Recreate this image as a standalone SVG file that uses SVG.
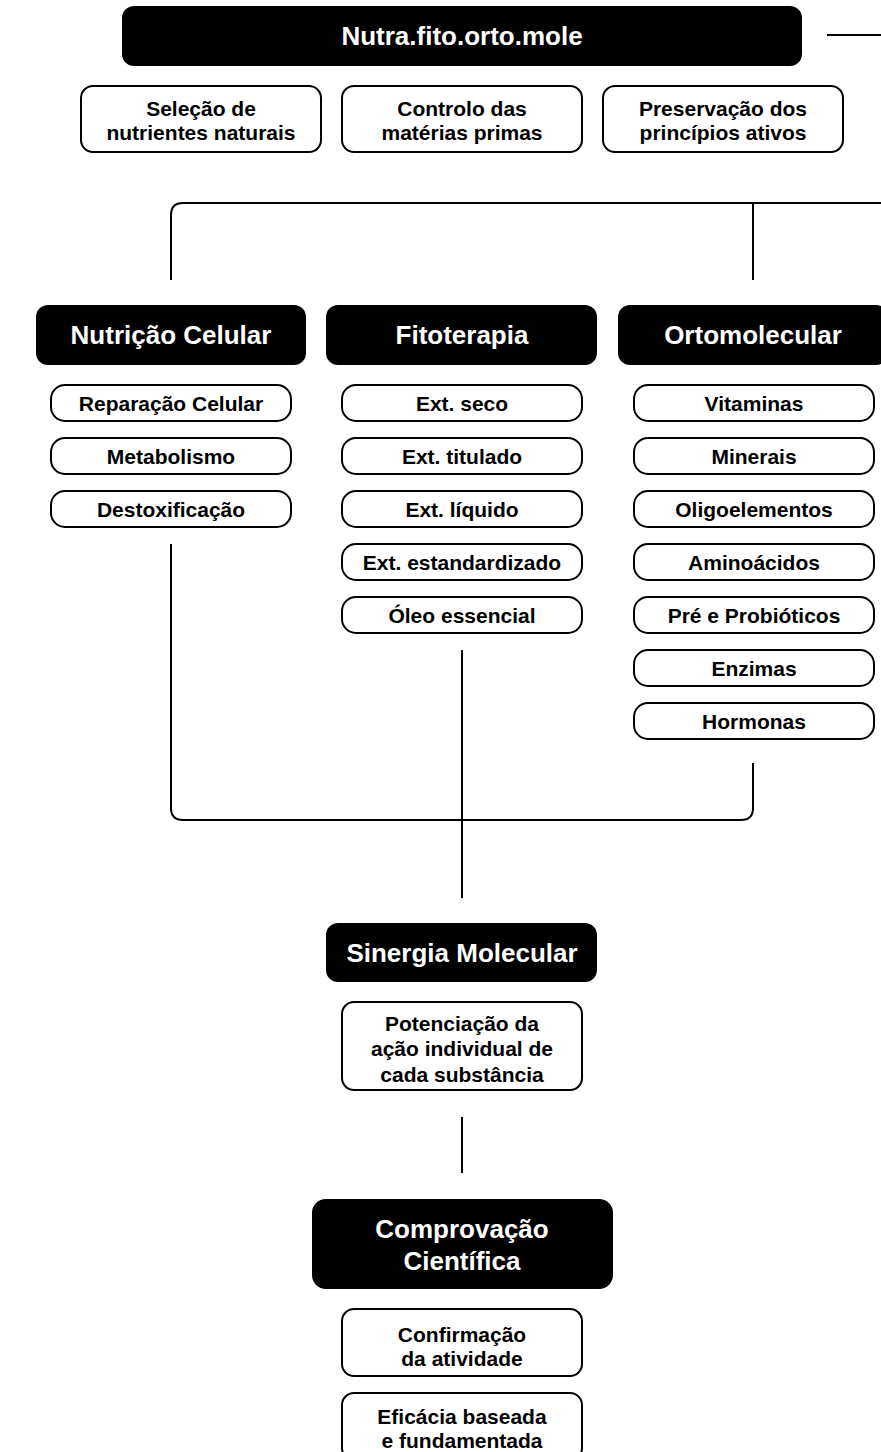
<svg xmlns="http://www.w3.org/2000/svg" width="881" height="1452" viewBox="0 0 881 1452">
  <style>
    .hd { fill: #000; }
    .box { fill: #fff; stroke: #000; stroke-width: 2; }
    .pill { fill: #fff; stroke: #000; stroke-width: 2; }
    .ln { fill: none; stroke: #000; stroke-width: 2; }
    text { font-family: "Liberation Sans", Arial, Helvetica, sans-serif; font-weight: bold; text-anchor: middle; }
    .ht { fill: #fff; font-size: 26px; }
    .bt { fill: #000; font-size: 21px; }
  </style>

  <rect width="881" height="1452" fill="#fff"/>

  <!-- connectors -->
  <g id="connectors">
    <path class="ln" d="M827 35 H881"/>
    <path class="ln" d="M171 280 V215 Q171 203 183 203 H881"/>
    <path class="ln" d="M753 203 V280"/>
    <path class="ln" d="M171 544 V808 Q171 820 183 820 H741 Q753 820 753 808 V763"/>
    <path class="ln" d="M462 650 V898"/>
    <path class="ln" d="M462 1117 V1173"/>
  </g>

  <!-- title -->
  <g id="title">
    <rect class="hd" x="122" y="6" width="680" height="60" rx="12"/>
    <text class="ht" x="462" y="45">Nutra.fito.orto.mole</text>
  </g>

  <!-- principles -->
  <g id="selecao">
    <rect class="box" x="81" y="86" width="240" height="66" rx="12"/>
    <text class="bt" x="201" y="116">Seleção de</text>
    <text class="bt" x="201" y="140">nutrientes naturais</text>
  </g>
  <g id="controlo">
    <rect class="box" x="342" y="86" width="240" height="66" rx="12"/>
    <text class="bt" x="462" y="116">Controlo das</text>
    <text class="bt" x="462" y="140">matérias primas</text>
  </g>
  <g id="preservacao">
    <rect class="box" x="603" y="86" width="240" height="66" rx="12"/>
    <text class="bt" x="723" y="116">Preservação dos</text>
    <text class="bt" x="723" y="140">princípios ativos</text>
  </g>

  <!-- category headers -->
  <g id="nutricao">
    <rect class="hd" x="36" y="305" width="270" height="60" rx="12"/>
    <text class="ht" x="171" y="344">Nutrição Celular</text>
  </g>
  <g id="fitoterapia">
    <rect class="hd" x="326" y="305" width="271" height="60" rx="12"/>
    <text class="ht" x="462" y="344">Fitoterapia</text>
  </g>
  <g id="ortomolecular">
    <rect class="hd" x="618" y="305" width="270" height="60" rx="12"/>
    <text class="ht" x="753" y="344">Ortomolecular</text>
  </g>

  <!-- Nutrição Celular items -->
  <g id="reparacao">
    <rect class="pill" x="51" y="385" width="240" height="36" rx="14"/>
    <text class="bt" x="171" y="411">Reparação Celular</text>
  </g>
  <g id="metabolismo">
    <rect class="pill" x="51" y="438" width="240" height="36" rx="14"/>
    <text class="bt" x="171" y="464">Metabolismo</text>
  </g>
  <g id="destoxificacao">
    <rect class="pill" x="51" y="491" width="240" height="36" rx="14"/>
    <text class="bt" x="171" y="517">Destoxificação</text>
  </g>

  <!-- Fitoterapia items -->
  <g id="ext-seco">
    <rect class="pill" x="342" y="385" width="240" height="36" rx="14"/>
    <text class="bt" x="462" y="411">Ext. seco</text>
  </g>
  <g id="ext-titulado">
    <rect class="pill" x="342" y="438" width="240" height="36" rx="14"/>
    <text class="bt" x="462" y="464">Ext. titulado</text>
  </g>
  <g id="ext-liquido">
    <rect class="pill" x="342" y="491" width="240" height="36" rx="14"/>
    <text class="bt" x="462" y="517">Ext. líquido</text>
  </g>
  <g id="ext-estandardizado">
    <rect class="pill" x="342" y="544" width="240" height="36" rx="14"/>
    <text class="bt" x="462" y="570">Ext. estandardizado</text>
  </g>
  <g id="oleo">
    <rect class="pill" x="342" y="597" width="240" height="36" rx="14"/>
    <text class="bt" x="462" y="623">Óleo essencial</text>
  </g>

  <!-- Ortomolecular items -->
  <g id="vitaminas">
    <rect class="pill" x="634" y="385" width="240" height="36" rx="14"/>
    <text class="bt" x="754" y="411">Vitaminas</text>
  </g>
  <g id="minerais">
    <rect class="pill" x="634" y="438" width="240" height="36" rx="14"/>
    <text class="bt" x="754" y="464">Minerais</text>
  </g>
  <g id="oligoelementos">
    <rect class="pill" x="634" y="491" width="240" height="36" rx="14"/>
    <text class="bt" x="754" y="517">Oligoelementos</text>
  </g>
  <g id="aminoacidos">
    <rect class="pill" x="634" y="544" width="240" height="36" rx="14"/>
    <text class="bt" x="754" y="570">Aminoácidos</text>
  </g>
  <g id="probioticos">
    <rect class="pill" x="634" y="597" width="240" height="36" rx="14"/>
    <text class="bt" x="754" y="623">Pré e Probióticos</text>
  </g>
  <g id="enzimas">
    <rect class="pill" x="634" y="650" width="240" height="36" rx="14"/>
    <text class="bt" x="754" y="676">Enzimas</text>
  </g>
  <g id="hormonas">
    <rect class="pill" x="634" y="703" width="240" height="36" rx="14"/>
    <text class="bt" x="754" y="729">Hormonas</text>
  </g>

  <!-- synergy -->
  <g id="sinergia">
    <rect class="hd" x="326" y="923" width="271" height="59" rx="12"/>
    <text class="ht" x="462" y="962">Sinergia Molecular</text>
  </g>
  <g id="potenciacao">
    <rect class="box" x="342" y="1002" width="240" height="88" rx="12"/>
    <text class="bt" x="462" y="1031">Potenciação da</text>
    <text class="bt" x="462" y="1056">ação individual de</text>
    <text class="bt" x="462" y="1082">cada substância</text>
  </g>

  <!-- scientific proof -->
  <g id="comprovacao">
    <rect class="hd" x="312" y="1199" width="301" height="90" rx="14"/>
    <text class="ht" x="462" y="1238">Comprovação</text>
    <text class="ht" x="462" y="1270">Científica</text>
  </g>
  <g id="confirmacao">
    <rect class="box" x="342" y="1309" width="240" height="67" rx="12"/>
    <text class="bt" x="462" y="1342">Confirmação</text>
    <text class="bt" x="462" y="1366">da atividade</text>
  </g>
  <g id="eficacia">
    <rect class="box" x="342" y="1393" width="240" height="67" rx="12"/>
    <text class="bt" x="462" y="1424">Eficácia baseada</text>
    <text class="bt" x="462" y="1448">e fundamentada</text>
  </g>
</svg>
